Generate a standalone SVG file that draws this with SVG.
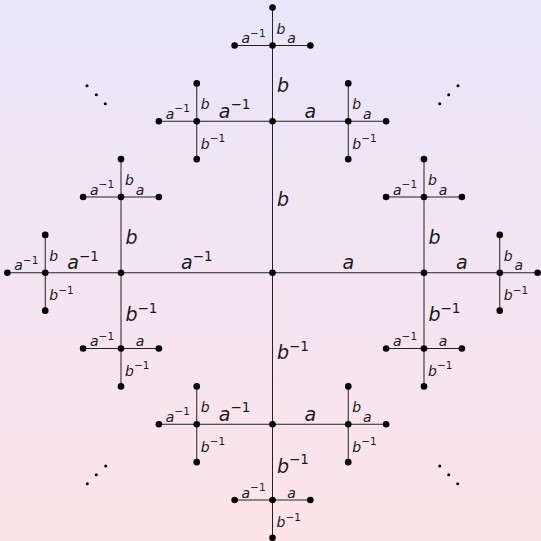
<svg xmlns="http://www.w3.org/2000/svg" width="541" height="541" viewBox="0 0 541 541">
<defs>
<linearGradient id="bg" x1="0" y1="0" x2="0" y2="1">
<stop offset="0" stop-color="#e9e6fa"/>
<stop offset="1" stop-color="#fde4e9"/>
</linearGradient>
</defs>
<style>
.e{stroke:#222;stroke-width:1;fill:none}
.n{fill:#000}
.d{fill:#000}
.lb{font-family:"DejaVu Sans","Liberation Sans",sans-serif;font-style:italic;fill:#1a1a1a}
.m{text-anchor:middle}
.big{font-size:19px}
.sm{font-size:14px}
.sp{font-style:normal}
.big .sp{font-size:13.5px}
.sm .sp{font-size:10.5px}
</style>
<rect x="0" y="0" width="541" height="541" fill="url(#bg)"/>
<g id="connectors">
<line class="e" x1="272.5" y1="272.75" x2="424" y2="272.75"/>
<line class="e" x1="272.5" y1="272.75" x2="121" y2="272.75"/>
<line class="e" x1="272.5" y1="272.75" x2="272.5" y2="121.25"/>
<line class="e" x1="272.5" y1="272.75" x2="272.5" y2="424.25"/>
<line class="e" x1="424" y1="272.75" x2="499.75" y2="272.75"/>
<line class="e" x1="424" y1="272.75" x2="424" y2="197"/>
<line class="e" x1="424" y1="272.75" x2="424" y2="348.5"/>
<line class="e" x1="121" y1="272.75" x2="45.25" y2="272.75"/>
<line class="e" x1="121" y1="272.75" x2="121" y2="197"/>
<line class="e" x1="121" y1="272.75" x2="121" y2="348.5"/>
<line class="e" x1="272.5" y1="121.25" x2="272.5" y2="45.5"/>
<line class="e" x1="272.5" y1="121.25" x2="196.75" y2="121.25"/>
<line class="e" x1="272.5" y1="121.25" x2="348.25" y2="121.25"/>
<line class="e" x1="272.5" y1="424.25" x2="272.5" y2="500"/>
<line class="e" x1="272.5" y1="424.25" x2="196.75" y2="424.25"/>
<line class="e" x1="272.5" y1="424.25" x2="348.25" y2="424.25"/>
<line class="e" x1="499.75" y1="272.75" x2="537.625" y2="272.75"/>
<line class="e" x1="499.75" y1="272.75" x2="499.75" y2="234.875"/>
<line class="e" x1="499.75" y1="272.75" x2="499.75" y2="310.625"/>
<line class="e" x1="424" y1="197" x2="424" y2="159.125"/>
<line class="e" x1="424" y1="197" x2="386.125" y2="197"/>
<line class="e" x1="424" y1="197" x2="461.875" y2="197"/>
<line class="e" x1="424" y1="348.5" x2="424" y2="386.375"/>
<line class="e" x1="424" y1="348.5" x2="386.125" y2="348.5"/>
<line class="e" x1="424" y1="348.5" x2="461.875" y2="348.5"/>
<line class="e" x1="45.25" y1="272.75" x2="7.375" y2="272.75"/>
<line class="e" x1="45.25" y1="272.75" x2="45.25" y2="234.875"/>
<line class="e" x1="45.25" y1="272.75" x2="45.25" y2="310.625"/>
<line class="e" x1="121" y1="197" x2="121" y2="159.125"/>
<line class="e" x1="121" y1="197" x2="83.125" y2="197"/>
<line class="e" x1="121" y1="197" x2="158.875" y2="197"/>
<line class="e" x1="121" y1="348.5" x2="121" y2="386.375"/>
<line class="e" x1="121" y1="348.5" x2="83.125" y2="348.5"/>
<line class="e" x1="121" y1="348.5" x2="158.875" y2="348.5"/>
<line class="e" x1="272.5" y1="45.5" x2="272.5" y2="7.625"/>
<line class="e" x1="272.5" y1="45.5" x2="234.625" y2="45.5"/>
<line class="e" x1="272.5" y1="45.5" x2="310.375" y2="45.5"/>
<line class="e" x1="196.75" y1="121.25" x2="158.875" y2="121.25"/>
<line class="e" x1="196.75" y1="121.25" x2="196.75" y2="83.375"/>
<line class="e" x1="196.75" y1="121.25" x2="196.75" y2="159.125"/>
<line class="e" x1="348.25" y1="121.25" x2="386.125" y2="121.25"/>
<line class="e" x1="348.25" y1="121.25" x2="348.25" y2="83.375"/>
<line class="e" x1="348.25" y1="121.25" x2="348.25" y2="159.125"/>
<line class="e" x1="272.5" y1="500" x2="272.5" y2="537.875"/>
<line class="e" x1="272.5" y1="500" x2="234.625" y2="500"/>
<line class="e" x1="272.5" y1="500" x2="310.375" y2="500"/>
<line class="e" x1="196.75" y1="424.25" x2="158.875" y2="424.25"/>
<line class="e" x1="196.75" y1="424.25" x2="196.75" y2="386.375"/>
<line class="e" x1="196.75" y1="424.25" x2="196.75" y2="462.125"/>
<line class="e" x1="348.25" y1="424.25" x2="386.125" y2="424.25"/>
<line class="e" x1="348.25" y1="424.25" x2="348.25" y2="386.375"/>
<line class="e" x1="348.25" y1="424.25" x2="348.25" y2="462.125"/>
</g>
<g id="edge-labels">
<text class="lb big m" x="348.25" y="269.25">a</text>
<text class="lb big m" x="196.75" y="269.25">a<tspan class="sp" dy="-8.5">−1</tspan></text>
<text class="lb big" x="277" y="206">b</text>
<text class="lb big" x="277" y="359">b<tspan class="sp" dy="-8.5">−1</tspan></text>
<text class="lb big m" x="461.875" y="269.25">a</text>
<text class="lb big" x="428.5" y="243.9">b</text>
<text class="lb big" x="428.5" y="321.1">b<tspan class="sp" dy="-8.5">−1</tspan></text>
<text class="lb big m" x="83.125" y="269.25">a<tspan class="sp" dy="-8.5">−1</tspan></text>
<text class="lb big" x="125.5" y="243.9">b</text>
<text class="lb big" x="125.5" y="321.1">b<tspan class="sp" dy="-8.5">−1</tspan></text>
<text class="lb big" x="277" y="92.4">b</text>
<text class="lb big m" x="234.625" y="117.75">a<tspan class="sp" dy="-8.5">−1</tspan></text>
<text class="lb big m" x="310.375" y="117.75">a</text>
<text class="lb big" x="277" y="472.6">b<tspan class="sp" dy="-8.5">−1</tspan></text>
<text class="lb big m" x="234.625" y="420.75">a<tspan class="sp" dy="-8.5">−1</tspan></text>
<text class="lb big m" x="310.375" y="420.75">a</text>
<text class="lb sm m" x="518.69" y="270.25">a</text>
<text class="lb sm" x="503.75" y="260.8">b</text>
<text class="lb sm" x="503.75" y="300.2">b<tspan class="sp" dy="-6.5">−1</tspan></text>
<text class="lb sm" x="428" y="185.1">b</text>
<text class="lb sm m" x="405.06" y="194.5">a<tspan class="sp" dy="-6.5">−1</tspan></text>
<text class="lb sm m" x="442.94" y="194.5">a</text>
<text class="lb sm" x="428" y="375.9">b<tspan class="sp" dy="-6.5">−1</tspan></text>
<text class="lb sm m" x="405.06" y="346">a<tspan class="sp" dy="-6.5">−1</tspan></text>
<text class="lb sm m" x="442.94" y="346">a</text>
<text class="lb sm m" x="26.31" y="270.25">a<tspan class="sp" dy="-6.5">−1</tspan></text>
<text class="lb sm" x="49.25" y="260.8">b</text>
<text class="lb sm" x="49.25" y="300.2">b<tspan class="sp" dy="-6.5">−1</tspan></text>
<text class="lb sm" x="125" y="185.1">b</text>
<text class="lb sm m" x="102.06" y="194.5">a<tspan class="sp" dy="-6.5">−1</tspan></text>
<text class="lb sm m" x="139.94" y="194.5">a</text>
<text class="lb sm" x="125" y="375.9">b<tspan class="sp" dy="-6.5">−1</tspan></text>
<text class="lb sm m" x="102.06" y="346">a<tspan class="sp" dy="-6.5">−1</tspan></text>
<text class="lb sm m" x="139.94" y="346">a</text>
<text class="lb sm" x="276.5" y="33.6">b</text>
<text class="lb sm m" x="253.56" y="43">a<tspan class="sp" dy="-6.5">−1</tspan></text>
<text class="lb sm m" x="291.44" y="43">a</text>
<text class="lb sm m" x="177.81" y="118.75">a<tspan class="sp" dy="-6.5">−1</tspan></text>
<text class="lb sm" x="200.75" y="109.3">b</text>
<text class="lb sm" x="200.75" y="148.7">b<tspan class="sp" dy="-6.5">−1</tspan></text>
<text class="lb sm m" x="367.19" y="118.75">a</text>
<text class="lb sm" x="352.25" y="109.3">b</text>
<text class="lb sm" x="352.25" y="148.7">b<tspan class="sp" dy="-6.5">−1</tspan></text>
<text class="lb sm" x="276.5" y="527.4">b<tspan class="sp" dy="-6.5">−1</tspan></text>
<text class="lb sm m" x="253.56" y="497.5">a<tspan class="sp" dy="-6.5">−1</tspan></text>
<text class="lb sm m" x="291.44" y="497.5">a</text>
<text class="lb sm m" x="177.81" y="421.75">a<tspan class="sp" dy="-6.5">−1</tspan></text>
<text class="lb sm" x="200.75" y="412.3">b</text>
<text class="lb sm" x="200.75" y="451.7">b<tspan class="sp" dy="-6.5">−1</tspan></text>
<text class="lb sm m" x="367.19" y="421.75">a</text>
<text class="lb sm" x="352.25" y="412.3">b</text>
<text class="lb sm" x="352.25" y="451.7">b<tspan class="sp" dy="-6.5">−1</tspan></text>
</g>
<g id="n-e"><circle class="n" cx="272.5" cy="272.75" r="3.3"/></g>
<g id="n-a"><circle class="n" cx="424" cy="272.75" r="3.3"/></g>
<g id="n-ai"><circle class="n" cx="121" cy="272.75" r="3.3"/></g>
<g id="n-b"><circle class="n" cx="272.5" cy="121.25" r="3.3"/></g>
<g id="n-bi"><circle class="n" cx="272.5" cy="424.25" r="3.3"/></g>
<g id="n-aa"><circle class="n" cx="499.75" cy="272.75" r="3.3"/></g>
<g id="n-ab"><circle class="n" cx="424" cy="197" r="3.3"/></g>
<g id="n-abi"><circle class="n" cx="424" cy="348.5" r="3.3"/></g>
<g id="n-aiai"><circle class="n" cx="45.25" cy="272.75" r="3.3"/></g>
<g id="n-aib"><circle class="n" cx="121" cy="197" r="3.3"/></g>
<g id="n-aibi"><circle class="n" cx="121" cy="348.5" r="3.3"/></g>
<g id="n-bb"><circle class="n" cx="272.5" cy="45.5" r="3.3"/></g>
<g id="n-bai"><circle class="n" cx="196.75" cy="121.25" r="3.3"/></g>
<g id="n-ba"><circle class="n" cx="348.25" cy="121.25" r="3.3"/></g>
<g id="n-bibi"><circle class="n" cx="272.5" cy="500" r="3.3"/></g>
<g id="n-biai"><circle class="n" cx="196.75" cy="424.25" r="3.3"/></g>
<g id="n-bia"><circle class="n" cx="348.25" cy="424.25" r="3.3"/></g>
<g id="n-aaa"><circle class="n" cx="537.625" cy="272.75" r="3.3"/></g>
<g id="n-aab"><circle class="n" cx="499.75" cy="234.875" r="3.3"/></g>
<g id="n-aabi"><circle class="n" cx="499.75" cy="310.625" r="3.3"/></g>
<g id="n-abb"><circle class="n" cx="424" cy="159.125" r="3.3"/></g>
<g id="n-abai"><circle class="n" cx="386.125" cy="197" r="3.3"/></g>
<g id="n-aba"><circle class="n" cx="461.875" cy="197" r="3.3"/></g>
<g id="n-abibi"><circle class="n" cx="424" cy="386.375" r="3.3"/></g>
<g id="n-abiai"><circle class="n" cx="386.125" cy="348.5" r="3.3"/></g>
<g id="n-abia"><circle class="n" cx="461.875" cy="348.5" r="3.3"/></g>
<g id="n-aiaiai"><circle class="n" cx="7.375" cy="272.75" r="3.3"/></g>
<g id="n-aiaib"><circle class="n" cx="45.25" cy="234.875" r="3.3"/></g>
<g id="n-aiaibi"><circle class="n" cx="45.25" cy="310.625" r="3.3"/></g>
<g id="n-aibb"><circle class="n" cx="121" cy="159.125" r="3.3"/></g>
<g id="n-aibai"><circle class="n" cx="83.125" cy="197" r="3.3"/></g>
<g id="n-aiba"><circle class="n" cx="158.875" cy="197" r="3.3"/></g>
<g id="n-aibibi"><circle class="n" cx="121" cy="386.375" r="3.3"/></g>
<g id="n-aibiai"><circle class="n" cx="83.125" cy="348.5" r="3.3"/></g>
<g id="n-aibia"><circle class="n" cx="158.875" cy="348.5" r="3.3"/></g>
<g id="n-bbb"><circle class="n" cx="272.5" cy="7.625" r="3.3"/></g>
<g id="n-bbai"><circle class="n" cx="234.625" cy="45.5" r="3.3"/></g>
<g id="n-bba"><circle class="n" cx="310.375" cy="45.5" r="3.3"/></g>
<g id="n-baiai"><circle class="n" cx="158.875" cy="121.25" r="3.3"/></g>
<g id="n-baib"><circle class="n" cx="196.75" cy="83.375" r="3.3"/></g>
<g id="n-baibi"><circle class="n" cx="196.75" cy="159.125" r="3.3"/></g>
<g id="n-baa"><circle class="n" cx="386.125" cy="121.25" r="3.3"/></g>
<g id="n-bab"><circle class="n" cx="348.25" cy="83.375" r="3.3"/></g>
<g id="n-babi"><circle class="n" cx="348.25" cy="159.125" r="3.3"/></g>
<g id="n-bibibi"><circle class="n" cx="272.5" cy="537.875" r="3.3"/></g>
<g id="n-bibiai"><circle class="n" cx="234.625" cy="500" r="3.3"/></g>
<g id="n-bibia"><circle class="n" cx="310.375" cy="500" r="3.3"/></g>
<g id="n-biaiai"><circle class="n" cx="158.875" cy="424.25" r="3.3"/></g>
<g id="n-biaib"><circle class="n" cx="196.75" cy="386.375" r="3.3"/></g>
<g id="n-biaibi"><circle class="n" cx="196.75" cy="462.125" r="3.3"/></g>
<g id="n-biaa"><circle class="n" cx="386.125" cy="424.25" r="3.3"/></g>
<g id="n-biab"><circle class="n" cx="348.25" cy="386.375" r="3.3"/></g>
<g id="n-biabi"><circle class="n" cx="348.25" cy="462.125" r="3.3"/></g>
<g id="ellipses">
<circle class="d" cx="87" cy="85.7" r="1.5"/><circle class="d" cx="96.3" cy="94.7" r="1.5"/><circle class="d" cx="105.3" cy="103.7" r="1.5"/>
<circle class="d" cx="105.7" cy="466" r="1.5"/><circle class="d" cx="96.3" cy="474.7" r="1.5"/><circle class="d" cx="87.3" cy="483.7" r="1.5"/>
<circle class="d" cx="458" cy="85.7" r="1.5"/><circle class="d" cx="448.7" cy="94.7" r="1.5"/><circle class="d" cx="439.7" cy="103.7" r="1.5"/>
<circle class="d" cx="439.7" cy="466" r="1.5"/><circle class="d" cx="448.7" cy="474.7" r="1.5"/><circle class="d" cx="457.7" cy="483.7" r="1.5"/>
</g>
</svg>
